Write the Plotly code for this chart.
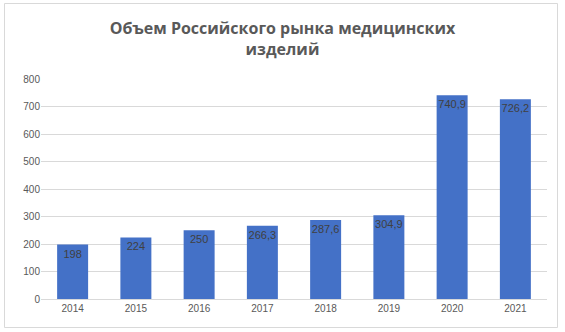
import plotly.graph_objects as go

years = ["2014", "2015", "2016", "2017", "2018", "2019", "2020", "2021"]
values = [198, 224, 250, 266.3, 287.6, 304.9, 740.9, 726.2]
labels = ["198", "224", "250", "266,3", "287,6", "304,9", "740,9", "726,2"]
title_text = "Объем Российского рынка медицинских<br>изделий"

fig = go.Figure(go.Bar(
    x=years, y=values, text=labels, textposition="inside",
    insidetextanchor="end", textangle=0, constraintext="none",
    textfont=dict(family="Liberation Sans, Arial", size=11, color="#404040"),
    marker=dict(color="#4471c7", line=dict(width=0)),
    width=0.49,
    hoverinfo="skip",
))

W, H = 565, 332
ml, mr, mt, mb = 41, 18, 79, 33
pw, ph = W - ml - mr, H - mt - mb

fig.update_layout(
    width=W, height=H,
    margin=dict(l=ml, r=mr, t=mt, b=mb),
    paper_bgcolor="white", plot_bgcolor="white",
    title=dict(text=title_text, x=0.5, xref="container", xanchor="center",
               y=1 - 34 / H, yanchor="middle", yref="container",
               font=dict(family="Open Sans, Liberation Sans", size=16, color="#595959", weight="bold")),
    showlegend=False,
    xaxis=dict(showgrid=False, showline=True, linecolor="#d9d9d9", linewidth=1,
               ticks="", tickfont=dict(family="Liberation Sans, Arial", size=10, color="#595959")),
    yaxis=dict(range=[0, 800], dtick=100, showgrid=True, gridcolor="#d9d9d9", gridwidth=1,
               zeroline=False, showline=False, ticks="",
               tickfont=dict(family="Liberation Sans, Arial", size=10, color="#595959")),
    shapes=[dict(type="rect", xref="paper", yref="paper",
                 x0=(4.5 - ml) / pw, x1=(557.5 - ml) / pw,
                 y0=(H - mb - 327.5) / ph, y1=(H - mb - 3.5) / ph,
                 line=dict(color="#d9d9d9", width=1), layer="below")],
)

fig.write_html("out.html", config={"displayModeBar": False},
               post_script="document.body.style.margin='0';document.body.style.overflow='hidden';")
